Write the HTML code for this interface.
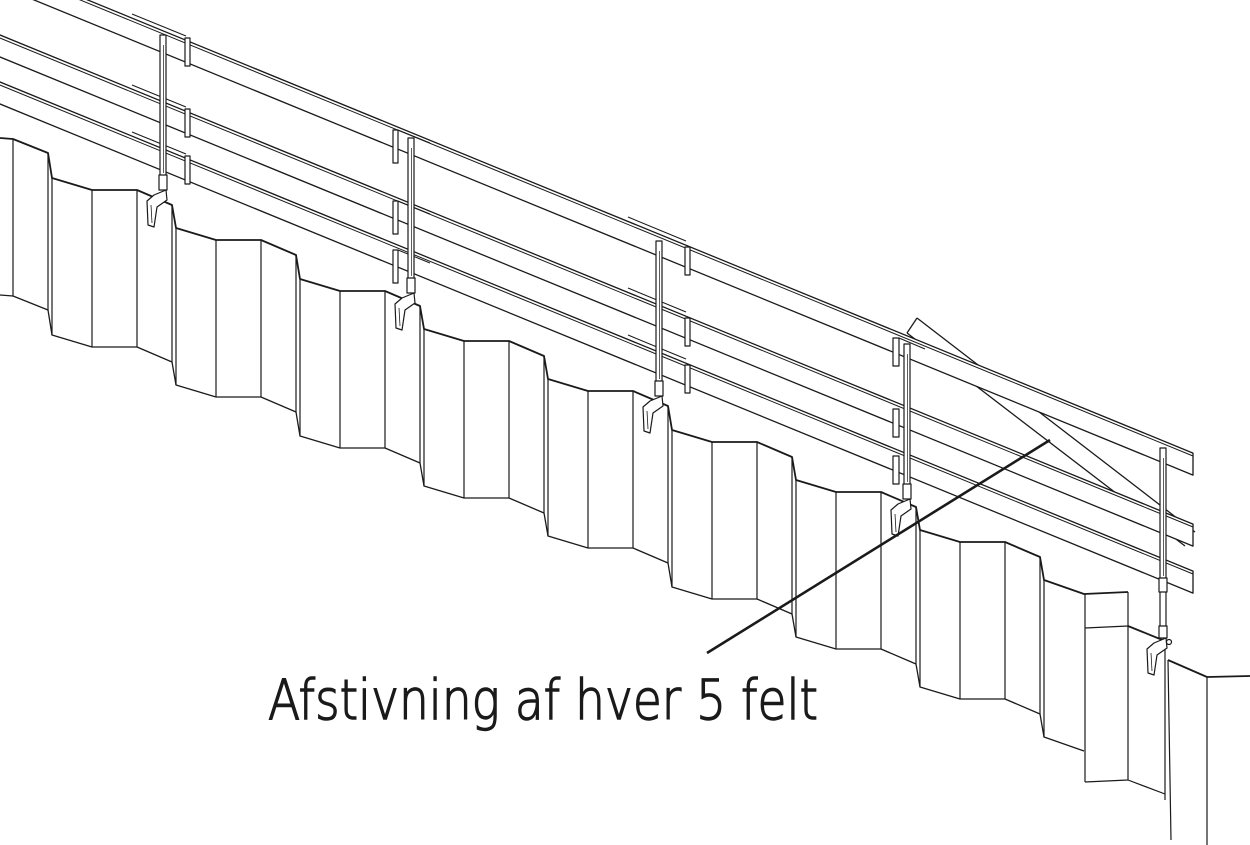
<!DOCTYPE html>
<html><head><meta charset="utf-8"><style>
html,body{margin:0;padding:0;background:#fff}
svg{display:block}
</style></head><body>
<svg width="1250" height="845" viewBox="0 0 1250 845" xmlns="http://www.w3.org/2000/svg">
<rect width="1250" height="845" fill="#fff"/>
<g stroke="#1a1a1a" fill="none" stroke-linejoin="round">
<!-- brace -->
<line x1="917" y1="318" x2="1195" y2="532" stroke-width="1.3"/>
<line x1="907" y1="333" x2="1185" y2="546" stroke-width="1.3"/>
<line x1="907" y1="333" x2="917" y2="318" stroke-width="1.3"/>
<!-- rails -->
<g fill="#fff" stroke-width="1.3">
<polygon points="-10,-40.1 1193,453.1 1193,475.1 -10,-18.1"/>
<polygon points="-10,30.9 1193,524.1 1193,546.1 -10,52.9"/>
<polygon points="-10,77.9 1193,571.1 1193,593.1 -10,99.9"/>
</g>
<g stroke-width="1">
<line x1="-10" y1="-37" x2="1193" y2="456"/>
<line x1="-10" y1="34" x2="1193" y2="527"/>
<line x1="-10" y1="81" x2="1193" y2="574"/>
</g>
<!-- rail plates -->
<g fill="#fff" stroke-width="1.2">
<rect x="185" y="38" width="5" height="28"/><rect x="185" y="109" width="5" height="28"/><rect x="185" y="156" width="5" height="28"/>
<rect x="393" y="130" width="5" height="33"/><rect x="393" y="201" width="5" height="33"/><rect x="393" y="250" width="5" height="33"/>
<rect x="685" y="247" width="5" height="28"/><rect x="685" y="318" width="5" height="28"/><rect x="685" y="365" width="5" height="28"/>
<rect x="893" y="338" width="6" height="28"/><rect x="893" y="409" width="6" height="28"/><rect x="893" y="456" width="6" height="28"/>
</g>
<g stroke-width="1">
<line x1="132" y1="14" x2="186" y2="36"/><line x1="132" y1="85" x2="186" y2="107"/><line x1="132" y1="132" x2="186" y2="154"/>
<line x1="398" y1="130" x2="430" y2="143"/><line x1="398" y1="201" x2="430" y2="214"/><line x1="398" y1="250" x2="430" y2="263"/>
<line x1="628" y1="217" x2="686" y2="241"/><line x1="628" y1="288" x2="686" y2="312"/><line x1="628" y1="335" x2="686" y2="359"/>
<line x1="899" y1="338" x2="925" y2="349"/>
</g>
<!-- wall -->
<g fill="#fff" stroke="none">
<polygon points="0,138 13,139 48,153 52,178 92,190 137,190 172,205 176,228 216,240 261,240 296,255 300,279 340,291 385,291 420,306 424,329 464,341 509,341 544,356 548,379 588,391 633,391 668,406 672,430 712,442 757,442 792,457 796,480 836,492 881,492 916,507 920,530 960,542 1005,542 1040,557 1044,580 1084,594 1128,592 1128,626 1165,641 1170,660 1207,677 1250,676 1250,845 1168,845 1165,794 1128,780 1085,782 1084,751 1044,737 1040,714 1005,699 960,699 920,687 916,664 881,649 836,649 796,637 792,614 757,599 712,599 672,587 668,563 633,548 588,548 548,536 544,513 509,498 464,498 424,486 420,463 385,448 340,448 300,436 296,412 261,397 216,397 176,385 172,362 137,347 92,347 52,335 48,310 13,296 0,295"/>
</g>
<polyline stroke-width="1.8" points="0,138 13,139 48,153 52,178 92,190 137,190 172,205 176,228 216,240 261,240 296,255 300,279 340,291 385,291 420,306 424,329 464,341 509,341 544,356 548,379 588,391 633,391 668,406 672,430 712,442 757,442 792,457 796,480 836,492 881,492 916,507 920,530 960,542 1005,542 1040,557 1044,580 1084,594 1128,592"/>
<polyline stroke-width="1.8" points="1128,626 1165,641"/>
<polyline stroke-width="1.8" points="1168,660 1207,677 1250,676"/>
<polyline stroke-width="1.3" points="0,295 13,296 48,310 52,335 92,347 137,347 172,362 176,385 216,397 261,397 296,412 300,436 340,448 385,448 420,463 424,486 464,498 509,498 544,513 548,536 588,548 633,548 668,563 672,587 712,599 757,599 792,614 796,637 836,649 881,649 916,664 920,687 960,699 1005,699 1040,714 1044,737 1084,751"/>
<path stroke-width="1.2" d="M13,139V296 M48,153V310 M52,178V335 M92,190V347 M137,190V347 M172,205V362 M176,228V385 M216,240V397 M261,240V397 M296,255V412 M300,279V436 M340,291V448 M385,291V448 M420,306V463 M424,329V486 M464,341V498 M509,341V498 M544,356V513 M548,379V536 M588,391V548 M633,391V548 M668,406V563 M672,430V587 M712,442V599 M757,442V599 M792,457V614 M796,480V637 M836,492V649 M881,492V649 M916,507V664 M920,530V687 M960,542V699 M1005,542V699 M1040,557V714 M1044,580V737 M1085,594V782 M1128,592V780 M1085,628L1128,626 M1085,782L1128,780 L1165,794 M1165,641V800 M1168,660L1171,840 M1207,677V845"/>
<!-- posts -->
<g stroke-width="1.2" fill="#fff">
<g transform="translate(160,35)">
<rect x="0" y="0" width="6" height="145"/><line x1="3.5" y1="10" x2="3.5" y2="138" stroke-width="0.7"/>
<rect x="-1" y="140" width="8" height="15"/>
<path d="M6,155 L-6,160 L-13,166 L-12,190 L-6,192 L-3,172 L7,165 Z"/><path d="M-9,170 L-8,188" stroke-width="0.8"/>
</g>
<g transform="translate(408,138)">
<rect x="0" y="0" width="6" height="145"/><line x1="3.5" y1="10" x2="3.5" y2="138" stroke-width="0.7"/>
<rect x="-1" y="140" width="8" height="15"/>
<path d="M6,155 L-6,160 L-13,166 L-12,190 L-6,192 L-3,172 L7,165 Z"/><path d="M-9,170 L-8,188" stroke-width="0.8"/>
</g>
<g transform="translate(656,241)">
<rect x="0" y="0" width="6" height="145"/><line x1="3.5" y1="10" x2="3.5" y2="138" stroke-width="0.7"/>
<rect x="-1" y="140" width="8" height="15"/>
<path d="M6,155 L-6,160 L-13,166 L-12,190 L-6,192 L-3,172 L7,165 Z"/><path d="M-9,170 L-8,188" stroke-width="0.8"/>
</g>
<g transform="translate(904,344)">
<rect x="0" y="0" width="6" height="145"/><line x1="3.5" y1="10" x2="3.5" y2="138" stroke-width="0.7"/>
<rect x="-1" y="140" width="8" height="15"/>
<path d="M6,155 L-6,160 L-13,166 L-12,190 L-6,192 L-3,172 L7,165 Z"/><path d="M-9,170 L-8,188" stroke-width="0.8"/>
</g>
<g transform="translate(1160,448)">
<rect x="0" y="0" width="6" height="185"/><line x1="3.5" y1="10" x2="3.5" y2="128" stroke-width="0.7"/>
<rect x="-1" y="130" width="8" height="14"/>
<rect x="-1" y="178" width="8" height="12"/>
<path d="M6,190 L-6,195 L-13,201 L-12,225 L-6,227 L-3,207 L7,200 Z"/><path d="M-9,205 L-8,223" stroke-width="0.8"/>
<circle cx="9" cy="194" r="2.5"/>
</g>
</g>
<!-- callout -->
<line x1="707" y1="653" x2="1050" y2="440" stroke-width="2.6"/>
</g>
<text x="268" y="719" font-family="DejaVu Sans, Liberation Sans, sans-serif" font-weight="200" font-size="55" fill="#1a1a1a" stroke="#1a1a1a" stroke-width="1.4" textLength="550" lengthAdjust="spacingAndGlyphs">Afstivning af hver 5 felt</text>
</svg>
</body></html>
